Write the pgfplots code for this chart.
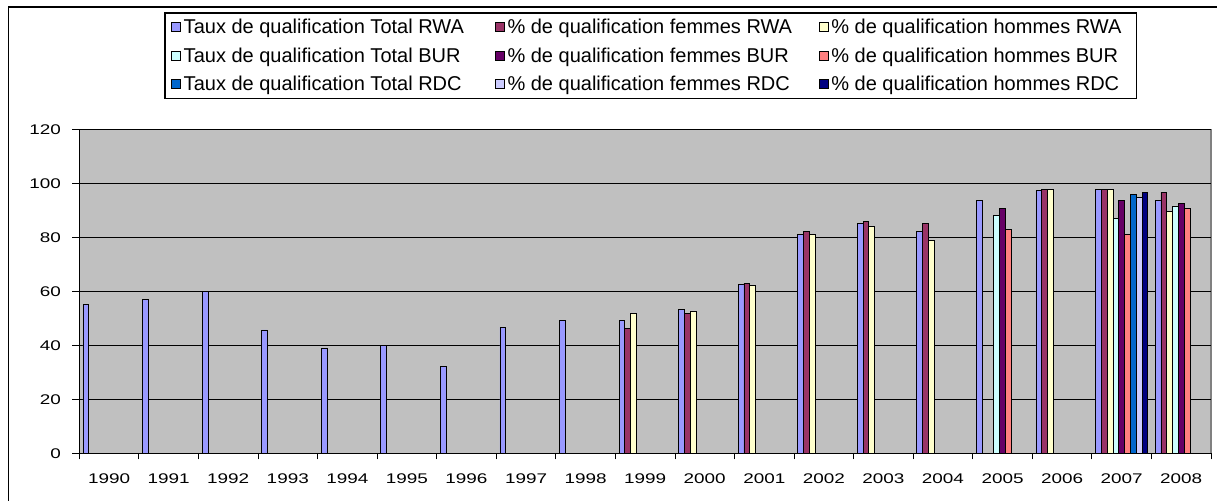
\documentclass[border=0pt]{standalone}
\usepackage{fontspec}
\setmainfont{Liberation Sans}
\newfontfamily\tickfont[FakeStretch=1.35]{Liberation Sans}
\usepackage{pgfplots}
\pgfplotsset{compat=1.18}
\definecolor{cA}{HTML}{9999FF}
\definecolor{cB}{HTML}{993366}
\definecolor{cC}{HTML}{FFFFCC}
\definecolor{cD}{HTML}{CCFFFF}
\definecolor{cE}{HTML}{660066}
\definecolor{cF}{HTML}{FF8080}
\definecolor{cG}{HTML}{0066CC}
\definecolor{cH}{HTML}{CCCCFF}
\definecolor{cI}{HTML}{000080}
\newcommand{\LE}[1]{\makebox[305bp][l]{#1}}
\begin{document}
\begin{tikzpicture}
\useasboundingbox (0,0) rectangle (1217bp,501bp);
\fill[white] (0,0) rectangle (1217bp,501bp);
\begin{axis}[
  at={(79.3bp,47.7bp)}, anchor=south west,
  scale only axis, width=1131.7bp, height=324bp,
  xmin=-0.5, xmax=18.5, ymin=0, ymax=120,
  ytick={0,20,...,120},
  xtick={0,...,18},
  xticklabels={1990,1991,1992,1993,1994,1995,1996,1997,1998,1999,2000,2001,2002,2003,2004,2005,2006,2007,2008},
  minor xtick={-0.5,0.5,...,18.5},
  xtick style={draw=none},
  minor x tick style={draw=black, line width=0.8bp},
  ytick style={draw=black, line width=0.8bp},
  tick align=outside,
  major tick length=7bp, minor tick length=6bp,
  axis x line*=bottom, axis y line*=left,
  axis line style={black, line width=1bp, -},
  axis background/.style={fill={rgb,255:red,192;green,192;blue,192}, draw={rgb,255:red,128;green,128;blue,128}, line width=1.2bp},
  ymajorgrids, grid style={black, line width=0.9bp},
  /pgf/number format/assume math mode=true,
  ticklabel style={font=\tickfont\fontsize{14bp}{16bp}\selectfont, inner sep=0pt},
  xticklabel style={yshift=-13.7bp},
  yticklabel style={xshift=-11.3bp},
  ybar,
  every axis plot/.append style={draw=black, line width=0.8bp, bar width=0.0974},
  legend columns=3,
  legend style={at={(0.0751,1.3611)}, anchor=north west, draw=black, line width=1.3bp, fill=white,
    inner xsep=0pt, inner ysep=0pt, row sep=0pt, column sep=0pt,
    nodes={inner sep=0pt, minimum height=28.4bp, anchor=west},
    font=\fontsize{20bp}{24bp}\selectfont},
  legend image code/.code={\path (-6bp,0) (12bp,0); \draw[#1, line width=0.8bp] (0bp,-4.5bp) rectangle (9bp,4.5bp);},
]
\addplot[fill=cA, bar shift=-0.3896] coordinates {(0,55) (1,57) (2,60) (3,45.7) (4,39) (5,40) (6,32.3) (7,46.7) (8,49.3) (9,49.3) (10,53.2) (11,62.5) (12,80.9) (13,85) (14,82) (15,93.7) (16,97.3) (17,97.8) (18,93.7)};
\addlegendentry{\LE{Taux de qualification Total RWA}}
\addplot[fill=cB, bar shift=-0.2922] coordinates {(9,46.2) (10,51.7) (11,63) (12,82) (13,85.9) (14,85) (16,97.8) (17,97.8) (18,96.7)};
\addlegendentry{\LE{\% de qualification femmes RWA}}
\addplot[fill=cC, bar shift=-0.1948] coordinates {(9,51.9) (10,52.7) (11,62) (12,81) (13,83.9) (14,78.9) (16,97.8) (17,97.8) (18,89.6)};
\addlegendentry{\LE{\% de qualification hommes RWA}}
\addplot[fill=cD, bar shift=-0.0974] coordinates {(15,88.1) (17,87) (18,91.6)};
\addlegendentry{\LE{Taux de qualification Total  BUR}}
\addplot[fill=cE, bar shift=0] coordinates {(15,90.6) (17,93.7) (18,92.6)};
\addlegendentry{\LE{\% de qualification femmes BUR}}
\addplot[fill=cF, bar shift=0.0974] coordinates {(15,83) (17,81) (18,90.6)};
\addlegendentry{\LE{\% de qualification hommes BUR}}
\addplot[fill=cG, bar shift=0.1948] coordinates {(17,95.8)};
\addlegendentry{\LE{Taux de qualification Total RDC}}
\addplot[fill=cH, bar shift=0.2922] coordinates {(17,94.7)};
\addlegendentry{\LE{\% de qualification femmes RDC}}
\addplot[fill=cI, bar shift=0.3896] coordinates {(17,96.7)};
\addlegendentry{\LE{\% de qualification hommes RDC}}
\end{axis}
\draw[black, line width=1.6bp] (8.3bp,0) -- (8.3bp,493.7bp) -- (1217bp,493.7bp);
\end{tikzpicture}
\end{document}
